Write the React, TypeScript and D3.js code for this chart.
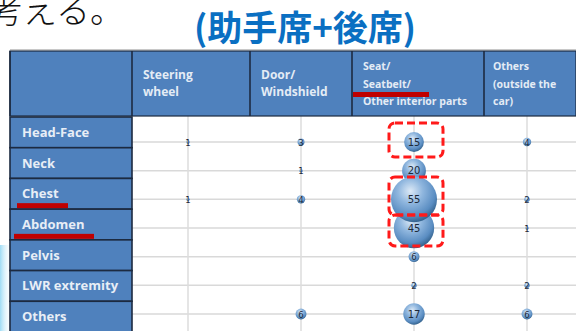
import React from "react";
import * as d3 from "d3";

const rows = ["Head-Face", "Neck", "Chest", "Abdomen", "Pelvis", "LWR extremity", "Others"];
const cols = ["Steering wheel", "Door/Windshield", "Seat/Seatbelt/Other interior parts", "Others (outside the car)"];
const colHeaderLines = [["Steering", "wheel"], ["Door/", "Windshield"], ["Seat/", "Seatbelt/", "Other interior parts"], ["Others", "(outside the", "car)"]];

// values per column (index aligned with rows); null = no bubble
const steeringWheel = [1, null, 1, null, null, null, null];
const doorWindshield = [3, 1, 4, null, null, null, 6];
const seatSeatbelt = [15, 20, 55, 45, 6, 2, 17];
const othersOutside = [4, null, 2, 1, null, 2, 6];
const seriesValues = [steeringWheel, doorWindshield, seatSeatbelt, othersOutside];

const titleText = "(助手席+後席)";
const topText = "考える。";

const highlightedRows = ["Chest", "Abdomen"];
const highlightedCells = [["Seat/Seatbelt/Other interior parts", "Head-Face"], ["Seat/Seatbelt/Other interior parts", "Chest"], ["Seat/Seatbelt/Other interior parts", "Abdomen"]];

export default function App() {
  const W = 576, H = 331;
  const x = d3.scalePoint<string>().domain(cols).range([188, 527]);
  const y = d3.scalePoint<string>().domain(rows).range([142, 314]);
  const rowBand = d3.scaleBand<string>().domain(rows).range([117, 332]);
  const r = d3.scalePow().exponent(0.65).domain([0, 55]).range([0, 23]);
  const headerEdges = [132, 250, 352, 484, 600];
  const headerTop = 51, headerBottom = 116;
  const blue = "#4f81bd";
  const dark = "#1c2a40";
  const hdrFont = "'Open Sans', 'DejaVu Sans', sans-serif";

  const bubbles: { c: string; rw: string; v: number }[] = [];
  cols.forEach((c, ci) => seriesValues[ci].forEach((v, ri) => { if (v != null) bubbles.push({ c, rw: rows[ri], v }); }));
  bubbles.sort((a, b) => a.v - b.v);

  return (
    <svg width={W} height={H} style={{ position: "absolute", left: 0, top: 0 }} xmlns="http://www.w3.org/2000/svg">
      <defs>
        <radialGradient id="bub" cx="42%" cy="32%" r="68%">
          <stop offset="0%" stopColor="#dce9f6" />
          <stop offset="40%" stopColor="#8fb6de" />
          <stop offset="80%" stopColor="#5a8dc2" />
          <stop offset="100%" stopColor="#36648f" />
        </radialGradient>
        <linearGradient id="glow" x1="0" y1="0" x2="1" y2="0">
          <stop offset="0%" stopColor="#9fdcf5" />
          <stop offset="100%" stopColor="#ffffff" stopOpacity="0" />
        </linearGradient>
      </defs>
      <rect x={0} y={0} width={W} height={H} fill="#ffffff" />
      <rect x={0} y={245} width={12} height={86} fill="url(#glow)" />

      <text x={-11} y={23} fontSize={34} fontFamily="'Noto Sans CJK JP', sans-serif" fontWeight={300} fill="#111">{topText}</text>
      <text x={305} y={41} textAnchor="middle" fontSize={35} fontWeight={700} fill="#0a6fc2" fontFamily="'Noto Sans CJK JP', sans-serif">{titleText}</text>

      {/* plot area */}
      <rect x={132} y={headerBottom} width={W - 132} height={H - headerBottom} fill="#fff" />
      {rows.map(rw => (
        <line key={"h" + rw} x1={132} x2={W} y1={y(rw)} y2={y(rw)} stroke="#d9d9d9" strokeWidth={1.5} />
      ))}
      {cols.map(c => (
        <line key={"v" + c} x1={x(c)} x2={x(c)} y1={headerBottom} y2={H} stroke="#dcdcdc" strokeWidth={1.5} />
      ))}

      {/* header */}
      <line x1={10} x2={W} y1={headerTop - 1.5} y2={headerTop - 1.5} stroke="#c8c8c8" strokeWidth={1} />
      <rect x={10} y={headerTop} width={W - 10} height={headerBottom - headerTop} fill={blue} />
      {[10, ...headerEdges.slice(0, 4)].map((e, i) => (
        <line key={"he" + i} x1={e} x2={e} y1={headerTop} y2={headerBottom} stroke={dark} strokeWidth={1.6} />
      ))}
      <rect x={10} y={headerTop} width={W - 10} height={headerBottom - headerTop} fill="none" stroke={dark} strokeWidth={1.2} />
      {colHeaderLines.map((lines, ci) => {
        const x0 = headerEdges[ci] + (ci === 3 ? 9 : 11);
        const fs = ci >= 2 ? 10.5 : 12;
        const lh = ci >= 2 ? 17.5 : 17;
        const mid = (headerTop + headerBottom) / 2;
        const start = mid - ((lines.length - 1) * lh) / 2 + 4;
        return lines.map((t, li) => (
          <text key={ci + "-" + li} x={x0} y={start + li * lh} fontSize={fs} fontWeight={700} fill="#e4ecf5" fontFamily={hdrFont}>{t}</text>
        ));
      })}

      {/* row labels */}
      {rows.map(rw => {
        const y0 = rowBand(rw)!;
        const bh = rowBand.bandwidth();
        return (
          <g key={"rl" + rw}>
            <rect x={10} y={y0} width={122} height={bh} fill={blue} stroke={dark} strokeWidth={1.6} />
            <text x={22} y={y0 + bh / 2 + 4.5} fontSize={13} fontWeight={700} fill="#e8eef6" fontFamily={hdrFont}>{rw}</text>
          </g>
        );
      })}

      {/* bubbles */}
      {bubbles.map((b, i) => (
        <g key={"b" + i}>
          <circle cx={x(b.c)} cy={y(b.rw)} r={r(b.v)} fill="url(#bub)" />
          <text x={x(b.c)} y={y(b.rw)! + 3.5} textAnchor="middle" fontSize={b.v >= 15 ? 10 : 8.5} fill="#1e2a3a" fontFamily="'DejaVu Sans', sans-serif">{b.v}</text>
        </g>
      ))}

      {/* red annotations */}
      <rect x={353} y={92} width={76} height={5} fill="#c00000" />
      {highlightedRows.map(rw => {
        const y0 = rowBand(rw)!;
        const bh = rowBand.bandwidth();
        const len = rw === "Chest" ? 51 : 80;
        const x0 = rw === "Chest" ? 17 : 14;
        return <rect key={"u" + rw} x={x0} y={y0 + bh - 6} width={len} height={5} fill="#c00000" />;
      })}
      {highlightedCells.map(([c, rw], i) => {
        const big = rw === "Chest";
        const top = rw === "Head-Face" ? 123 : big ? 177 : 215;
        const bot = rw === "Head-Face" ? 157 : big ? 215 : 246;
        return (
          <rect key={"d" + i} x={x(c)! - 25} y={top} width={54} height={bot - top} rx={6} fill="none" stroke="#ff1a1a" strokeWidth={3} strokeDasharray="8 4" />
        );
      })}
    </svg>
  );
}
